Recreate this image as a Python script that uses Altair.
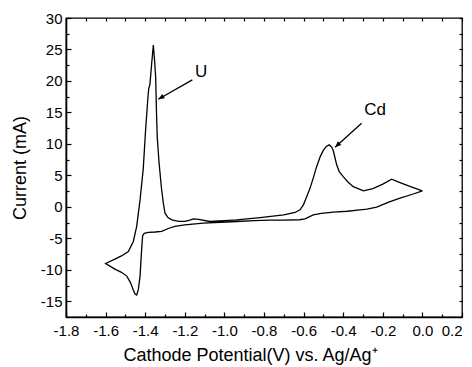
import altair as alt
import pandas as pd

# Cyclic voltammogram: cathodic sweep from 0.0 V down to -1.6 V, then back
potential = [
    0.0, -0.05, -0.113, -0.17, -0.231, -0.28, -0.315, -0.38, -0.45, -0.51,
    -0.551, -0.593, -0.62, -0.70, -0.77, -0.85, -0.938, -1.02, -1.107, -1.2,
    -1.25, -1.28, -1.317, -1.35, -1.384, -1.405, -1.413, -1.418, -1.426, -1.435,
    -1.443, -1.452, -1.46, -1.475, -1.493, -1.52, -1.553, -1.60,
    -1.553, -1.52, -1.485, -1.46, -1.443, -1.426, -1.41, -1.398, -1.386, -1.382,
    -1.376, -1.368, -1.359, -1.352, -1.347, -1.343, -1.339, -1.33, -1.318, -1.308,
    -1.300, -1.285, -1.266, -1.23, -1.199, -1.175, -1.157, -1.13, -1.073, -1.0,
    -0.938, -0.82, -0.70, -0.643, -0.618, -0.601, -0.584, -0.568, -0.551, -0.535,
    -0.517, -0.50, -0.485, -0.47, -0.458, -0.45, -0.44, -0.433, -0.42, -0.40,
    -0.375, -0.349, -0.298, -0.25, -0.2, -0.155, -0.113, -0.06, 0.0,
]
current = [
    2.55, 2.0, 1.38, 0.75, -0.05, -0.35, -0.48, -0.7, -0.84, -1.05,
    -1.27, -1.9, -2.05, -2.1, -2.1, -2.2, -2.33, -2.45, -2.6, -2.85,
    -3.1, -3.4, -3.9, -4.0, -4.05, -4.2, -4.6, -6.8, -11.0, -13.2,
    -14.0, -13.8, -13.2, -12.0, -11.0, -10.4, -9.9, -9.0,
    -8.3, -7.8, -7.1, -5.5, -3.1, 1.1, 6.0, 12.2, 17.5, 18.8,
    19.5, 22.5, 25.7, 23.0, 20.5, 15.0, 11.0, 7.0, 3.0, 0.5,
    -1.0, -1.7, -2.06, -2.3, -2.3, -2.1, -1.9, -2.0, -2.33, -2.2,
    -2.06, -1.7, -1.27, -0.9, -0.48, 0.32, 1.64, 2.9, 4.6, 6.3,
    7.9, 9.0, 9.6, 9.84, 9.5, 8.9, 7.6, 6.67, 5.6, 4.8,
    3.9, 3.2, 2.54, 2.9, 3.6, 4.4, 3.86, 3.2, 2.55,
]

x_major = [-1.8, -1.6, -1.4, -1.2, -1.0, -0.8, -0.6, -0.4, -0.2, 0.0, 0.2]
x_minor = [-1.7, -1.5, -1.3, -1.1, -0.9, -0.7, -0.5, -0.3, -0.1, 0.1]
y_major = [-15, -10, -5, 0, 5, 10, 15, 20, 25, 30]
y_minor = [-12.5, -7.5, -2.5, 2.5, 7.5, 12.5, 17.5, 22.5, 27.5]

# Annotations (arrow tail -> tip, label position)
ann_labels = ["U", "Cd"]
ann_label_x = [-1.118, -0.239]
ann_label_y = [21.4, 15.4]
arrow_tail_x = [-1.162, -0.307]
arrow_tail_y = [20.16, 13.29]
arrow_tip_x = [-1.334, -0.441]
arrow_tip_y = [17.1, 9.48]

df = pd.DataFrame({"potential": potential, "current": current,
                   "order": list(range(len(potential)))})
ann = pd.DataFrame({"label": ann_labels, "lx": ann_label_x, "ly": ann_label_y,
                    "tx": arrow_tail_x, "ty": arrow_tail_y,
                    "hx": arrow_tip_x, "hy": arrow_tip_y})

FONT = "Liberation Sans"
xs = alt.Scale(domain=[-1.8, 0.2], nice=False, zero=False)
ys = alt.Scale(domain=[-17.5, 30], nice=False, zero=False)
MINUS_FIX = "replace(datum.label, '\u2212', '-')"


def layer(xaxis, yaxis, visible=False):
    return alt.Chart(df).mark_line(
        color="black", strokeWidth=1.3, opacity=1 if visible else 0
    ).encode(
        x=alt.X("potential:Q", scale=xs, axis=xaxis),
        y=alt.Y("current:Q", scale=ys, axis=yaxis),
        order="order:Q",
    )


def tick_axis(orient, values, size):
    return alt.Axis(orient=orient, values=values, labels=False, domain=False,
                    grid=False, ticks=True, tickSize=size, tickColor="black",
                    tickWidth=1.2, offset=-size, title="")


main = layer(
    alt.Axis(orient="bottom", values=x_major, format=".1f", labelExpr=MINUS_FIX,
             ticks=False, domain=True, domainColor="black", domainWidth=1.6,
             grid=False, labelFont=FONT, labelFontSize=15, labelColor="black",
             labelPadding=6, labelFlush=False, labelOverlap=False,
             labelAlign={"condition": {"test": "datum.value > 0.15", "value": "right"},
                         "value": "center"},
             title="Cathode Potential(V) vs. Ag/Ag\u207a", titleFont=FONT,
             titleFontSize=18, titleFontWeight="normal", titleColor="black",
             titlePadding=8, titleX=184),
    alt.Axis(orient="left", values=y_major, format="d", labelExpr=MINUS_FIX,
             ticks=False, domain=True, domainColor="black", domainWidth=1.6,
             grid=False, labelFont=FONT, labelFontSize=15, labelColor="black",
             labelPadding=4, labelFlush=False, labelOverlap=False,
             title="Current (mA)", titleFont=FONT, titleFontSize=18,
             titleFontWeight="normal", titleColor="black", titlePadding=11),
    visible=True,
)
major_ticks = layer(tick_axis("bottom", x_major, 5), tick_axis("left", y_major, 5))
minor_ticks = layer(tick_axis("bottom", x_minor, 3), tick_axis("left", y_minor, 3))
mirror_ticks = layer(tick_axis("top", x_major + x_minor, 3),
                     tick_axis("right", y_major + y_minor, 3))

arrows = alt.Chart(ann).mark_rule(color="black", strokeWidth=1.3).encode(
    x=alt.X("tx:Q", scale=xs, axis=None), y=alt.Y("ty:Q", scale=ys, axis=None),
    x2="hx:Q", y2="hy:Q",
)
HEAD = "M0,0L-0.42,1L0.42,1Z"
head_u = alt.Chart(ann[ann.label == "U"]).mark_point(
    shape=HEAD, filled=True, color="black", opacity=1, size=150, angle=240
).encode(x=alt.X("hx:Q", scale=xs, axis=None), y=alt.Y("hy:Q", scale=ys, axis=None))
head_cd = alt.Chart(ann[ann.label == "Cd"]).mark_point(
    shape=HEAD, filled=True, color="black", opacity=1, size=150, angle=228
).encode(x=alt.X("hx:Q", scale=xs, axis=None), y=alt.Y("hy:Q", scale=ys, axis=None))
labels = alt.Chart(ann).mark_text(font=FONT, fontSize=17, color="black").encode(
    x=alt.X("lx:Q", scale=xs, axis=None), y=alt.Y("ly:Q", scale=ys, axis=None),
    text="label:N",
)

chart = alt.layer(
    main, major_ticks, minor_ticks, mirror_ticks, arrows, head_u, head_cd, labels
).resolve_axis(x="independent", y="independent").properties(
    width=396, height=299,
    autosize=alt.AutoSizeParams(type="none"),
    padding={"left": 58, "top": 10, "right": 2, "bottom": 50},
    background="white",
).configure_view(stroke="black", strokeWidth=1.3)

chart.save("out.html", embed_options={"renderer": "svg", "actions": False})
